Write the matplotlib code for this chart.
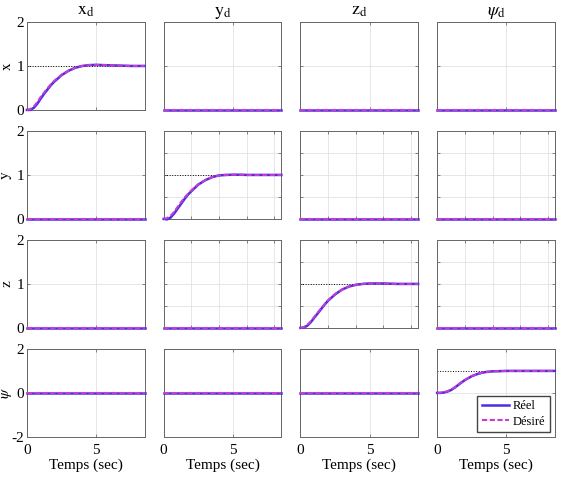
import numpy as np
import matplotlib.pyplot as plt

plt.rcParams['font.family'] = 'Liberation Serif'
plt.rcParams['mathtext.fontset'] = 'stix'
plt.rcParams['axes.unicode_minus'] = False

#%% data
t = [0, 0.25, 0.5, 0.75, 1, 1.25, 1.5, 1.75, 2, 2.5, 3, 3.5, 4, 4.5, 5, 5.5, 6, 6.5, 7, 7.5, 8, 8.5]

x_des  = [0, 0.02, 0.08, 0.18, 0.30, 0.40, 0.50, 0.59, 0.67, 0.80, 0.89, 0.96, 1.00, 1.02, 1.025, 1.02, 1.015, 1.01, 1.005, 1.0, 1.0, 1.0]
x_reel = [0, 0.00, 0.05, 0.14, 0.26, 0.37, 0.47, 0.57, 0.65, 0.79, 0.89, 0.96, 1.00, 1.02, 1.025, 1.02, 1.015, 1.01, 1.005, 1.0, 1.0, 1.0]

y_des  = [0, 0.02, 0.07, 0.16, 0.27, 0.38, 0.48, 0.57, 0.65, 0.79, 0.88, 0.95, 0.99, 1.00, 1.005, 1.005, 1.0, 1.0, 1.0, 1.0, 1.0, 1.0]
y_reel = [0, -0.01, 0.03, 0.12, 0.23, 0.34, 0.45, 0.55, 0.63, 0.78, 0.88, 0.95, 0.99, 1.00, 1.005, 1.005, 1.0, 1.0, 1.0, 1.0, 1.0, 1.0]

z_des  = [0, 0.02, 0.07, 0.15, 0.25, 0.35, 0.45, 0.54, 0.63, 0.77, 0.87, 0.94, 0.98, 1.00, 1.01, 1.01, 1.01, 1.005, 1.0, 1.0, 1.0, 1.0]
z_reel = [0, 0.01, 0.05, 0.13, 0.23, 0.33, 0.43, 0.53, 0.62, 0.76, 0.87, 0.94, 0.98, 1.00, 1.01, 1.01, 1.01, 1.005, 1.0, 1.0, 1.0, 1.0]

psi_des  = [0, 0.01, 0.03, 0.08, 0.15, 0.25, 0.37, 0.49, 0.59, 0.77, 0.88, 0.95, 0.98, 0.99, 1.0, 1.0, 1.0, 1.0, 1.0, 1.0, 1.0, 1.0]
psi_reel = [0, 0.00, 0.02, 0.06, 0.13, 0.23, 0.35, 0.47, 0.58, 0.76, 0.88, 0.95, 0.98, 0.99, 1.0, 1.0, 1.0, 1.0, 1.0, 1.0, 1.0, 1.0]

zero = [0] * len(t)
ref = 1.0

titles = [r'$\mathrm{x}_\mathrm{d}$', r'$\mathrm{y}_\mathrm{d}$',
          r'$\mathrm{z}_\mathrm{d}$', r'$\psi_\mathrm{d}$']
ylabels = [r'$\mathrm{x}$', r'$\mathrm{y}$', r'$\mathrm{z}$', r'$\psi$']
des = [x_des, y_des, z_des, psi_des]
reel = [x_reel, y_reel, z_reel, psi_reel]

# subplots with the finer grid
fine = [(1, 1), (1, 2), (1, 3), (2, 1), (2, 2), (2, 3)]

#%%
fig, axes = plt.subplots(4, 4, figsize=(5.61, 4.78), dpi=100)
plt.subplots_adjust(left=0.048, right=0.989, top=0.954, bottom=0.086,
                    wspace=0.162, hspace=0.239)

c_reel = '#4a2ee0'
c_des = '#c83cd0'

for i in range(4):
    for j in range(4):
        ax = axes[i][j]
        if i == j:
            ax.plot([0, 8.5], [ref, ref], ':', color='black', lw=0.7, zorder=1)
            l1, = ax.plot(t, reel[i], '-', color=c_reel, lw=1.8, zorder=4, clip_on=False)
            l2, = ax.plot(t, des[i], '--', color=c_des, lw=1.5, dashes=(2.5, 1.2), zorder=5, clip_on=False)
        else:
            ax.plot(t, zero, '-', color=c_reel, lw=1.8, zorder=4, clip_on=False)
            ax.plot(t, zero, '--', color=c_des, lw=1.5, dashes=(2.5, 1.2), zorder=5, clip_on=False)

        ax.set_xlim(0, 8.5)
        if i < 3:
            ax.set_ylim(0, 2)
        else:
            ax.set_ylim(-2, 2)

        if (i, j) in fine:
            ax.set_xticks([2, 4, 6, 8])
            ax.set_yticks([0.5, 1, 1.5])
        else:
            ax.set_xticks([0, 5])
            if i < 3:
                ax.set_yticks([0, 1, 2])
            else:
                ax.set_yticks([-2, 0, 2])

        ax.grid(True, color='#e2e2e2', lw=0.6)
        ax.set_axisbelow(True)
        ax.tick_params(direction='in', length=2.5, width=0.5, colors='#555555',
                       labelcolor='black', labelsize=11, pad=2,
                       top=True, right=True)
        ax.tick_params(axis='x', pad=5)
        for s in ax.spines.values():
            s.set_color('#666666')
            s.set_linewidth(0.7)

        if j != 0:
            ax.set_yticklabels([])
        else:
            ax.set_ylabel(ylabels[i], fontsize=11)
            ax.yaxis.set_label_coords(-0.11, 0.5)
        if i != 3:
            ax.set_xticklabels([])
        else:
            ax.set_xlabel("Temps (sec)", fontsize=11, labelpad=1)
        if i == 0:
            ax.set_title(titles[j], fontsize=13, pad=5)

axes[3][3].legend([l1, l2], ['Réel', 'Désiré'], loc='lower right', fontsize=9,
                  frameon=True, fancybox=False, edgecolor='#444444',
                  handlelength=2.2, borderpad=0.35, labelspacing=0.25,
                  handletextpad=0.3, borderaxespad=0.4, framealpha=1)

plt.savefig("out.png", dpi=100)
